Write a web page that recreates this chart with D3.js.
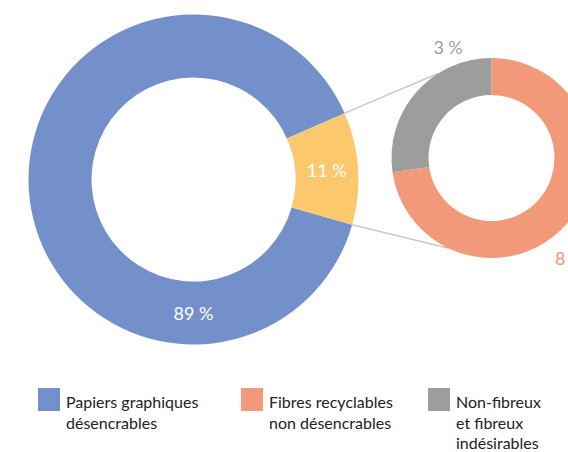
<!DOCTYPE html>
<html>
<head>
<meta charset="utf-8">
<script src="https://cdn.jsdelivr.net/npm/d3@7"></script>
<style>
  html, body { margin: 0; padding: 0; background: #fff; }
  svg { display: block; font-family: Lato, "Open Sans", sans-serif; }
</style>
</head>
<body>
<svg id="chart" width="568" height="452"></svg>
<script>
// Main split: deinkable graphic papers vs. the rest
const mainCategories = ["Papiers graphiques désencrables", "Autres"];
const mainValues = [89, 11];
const mainColors = ["#7490ca", "#fbc86e"];

// Breakdown of the 11 % share
const detailCategories = ["Fibres recyclables non désencrables", "Non-fibreux et fibreux indésirables"];
const detailValues = [8, 3];
const detailColors = ["#f2997a", "#9d9d9b"];

// Legend entries (one line per array item)
const legendLines = [
  ["Papiers graphiques", "désencrables"],
  ["Fibres recyclables", "non désencrables"],
  ["Non-fibreux", "et fibreux", "indésirables"]
];
const legendColors = [mainColors[0], detailColors[0], detailColors[1]];

const svg = d3.select("#chart");
const rad = d => d * Math.PI / 180;
const polar = (cx, cy, r, a) => [cx + r * Math.sin(a), cy - r * Math.cos(a)];
const pct = v => v + "\u202f%";

// ---- main ring ----
const big = { cx: 193.5, cy: 179.5, r0: 102, r1: 165 };
const bigStart = rad(105.9);
const bigPie = d3.pie().sort(null).startAngle(bigStart).endAngle(bigStart + 2 * Math.PI);
const bigArcs = bigPie(mainValues);
const bigArc = d3.arc().innerRadius(big.r0).outerRadius(big.r1);

// ---- detail ring ----
const small = { cx: 491.5, cy: 158, r0: 63, r1: 100 };
const smallPie = d3.pie().sort(null).startAngle(0).endAngle(2 * Math.PI);
const smallArcs = smallPie(detailValues);
const smallArc = d3.arc().innerRadius(small.r0).outerRadius(small.r1);

// connector lines from the 11 % slice to the detail ring
const rest = bigArcs[1];
const connectorTargets = [rad(328), rad(205.5)];
const connectors = [
  [polar(big.cx, big.cy, big.r1, rest.startAngle), polar(small.cx, small.cy, small.r1, connectorTargets[0])],
  [polar(big.cx, big.cy, big.r1, rest.endAngle), polar(small.cx, small.cy, small.r1, connectorTargets[1])]
];
svg.append("g").selectAll("line").data(connectors).join("line")
  .attr("x1", d => d[0][0]).attr("y1", d => d[0][1])
  .attr("x2", d => d[1][0]).attr("y2", d => d[1][1])
  .attr("stroke", "#c9c9c9").attr("stroke-width", 1.5);

const gBig = svg.append("g").attr("transform", `translate(${big.cx},${big.cy})`);
gBig.selectAll("path").data(bigArcs).join("path")
  .attr("d", bigArc)
  .attr("fill", (d, i) => mainColors[i]);

// labels inside the main ring
const midR = (big.r0 + big.r1) / 2;
const bigLabelAngles = [Math.PI, null];
gBig.selectAll("text").data(bigArcs).join("text")
  .attr("transform", (d, i) => {
    const a = bigLabelAngles[i] !== null ? bigLabelAngles[i] : (d.startAngle + d.endAngle) / 2;
    const [x, y] = polar(0, 0, midR, a);
    return `translate(${x},${y})`;
  })
  .attr("text-anchor", "middle")
  .attr("dominant-baseline", "central")
  .attr("fill", "#fff")
  .attr("font-size", 18)
  .text(d => pct(d.data));

const gSmall = svg.append("g").attr("transform", `translate(${small.cx},${small.cy})`);
gSmall.selectAll("path").data(smallArcs).join("path")
  .attr("d", smallArc)
  .attr("fill", (d, i) => detailColors[i]);

// labels outside the detail ring
const smallLabelPos = [{ a: rad(142), r: 127 }, { a: rad(338.6), r: 119 }];
const smallLabelColors = ["#f2997a", "#9d9d9b"];
gSmall.selectAll("text").data(smallArcs).join("text")
  .attr("transform", (d, i) => {
    const [x, y] = polar(0, 0, smallLabelPos[i].r, smallLabelPos[i].a);
    return `translate(${x},${y})`;
  })
  .attr("text-anchor", "middle")
  .attr("dominant-baseline", "central")
  .attr("fill", (d, i) => smallLabelColors[i])
  .attr("font-size", 18)
  .text(d => pct(d.data));

// ---- legend ----
const legendX = [38, 241, 428];
const legend = svg.append("g").selectAll("g").data(legendLines).join("g")
  .attr("transform", (d, i) => `translate(${legendX[i]},388)`);
legend.append("rect")
  .attr("width", 22).attr("height", 23)
  .attr("fill", (d, i) => legendColors[i]);
legend.append("text")
  .attr("x", 28).attr("y", 20)
  .attr("font-size", 16)
  .attr("fill", "#222")
  .selectAll("tspan").data(d => d).join("tspan")
  .attr("x", 28)
  .attr("dy", (d, i) => i === 0 ? 0 : 20.5)
  .text(d => d);
</script>
</body>
</html>
